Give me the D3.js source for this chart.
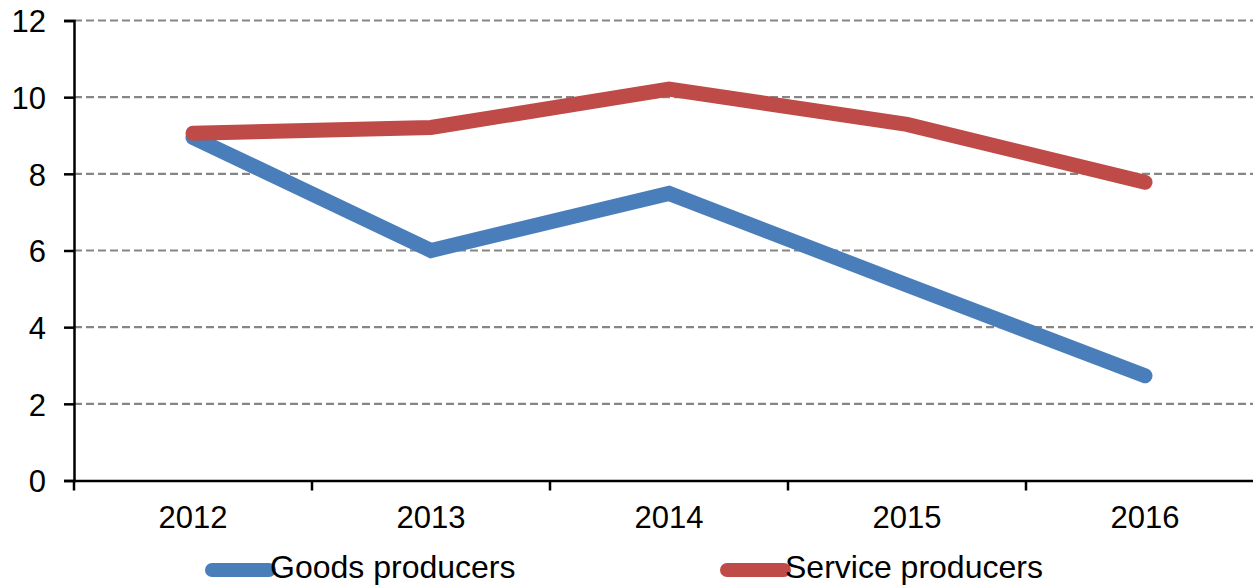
<!DOCTYPE html>
<html><head><meta charset="utf-8">
<script src="https://cdn.jsdelivr.net/npm/d3@7"></script>
<style>body{margin:0;background:#fff}svg{display:block;font-family:"Liberation Sans",Arial,sans-serif}</style>
</head><body><svg id="c" width="1253" height="586"></svg>
<script>
const years = ["2012","2013","2014","2015","2016"];
const goods = [8.95, 6.0, 7.49, 5.1, 2.73];
const service = [9.06, 9.21, 10.21, 9.29, 7.78];
const yTicks = [0,2,4,6,8,10,12];
const seriesNames = ["Goods producers","Service producers"];
const colors = ["#4A7EBB","#BE4B48"];

const svg = d3.select("#c");
const L = 74, R = 1264, T = 20.5, B = 480.5;
const x = d3.scaleBand().domain(years).range([L, R]);
const y = d3.scaleLinear().domain([0,12]).range([B, T]);

// gridlines
svg.append("g").selectAll("line").data(yTicks.filter(d=>d>0)).join("line")
  .attr("x1", L).attr("x2", 1253).attr("y1", d=>y(d)).attr("y2", d=>y(d))
  .attr("stroke", "#868686").attr("stroke-width", 2.2).attr("stroke-dasharray", "8,4");

// y axis
const ya = svg.append("g").attr("transform", `translate(${L},0)`)
  .call(d3.axisLeft(y).tickValues(yTicks).tickSize(10).tickPadding(18));
ya.select(".domain").attr("stroke","#000").attr("stroke-width",2.5);
ya.selectAll(".tick line").attr("stroke","#000").attr("stroke-width",2.5);
ya.selectAll("text").attr("font-size",31).attr("fill","#000").attr("dy","0.36em");

// x axis
const xa = svg.append("g").attr("transform", `translate(0,${B})`)
  .call(d3.axisBottom(x).tickSize(0).tickPadding(25));
xa.select(".domain").attr("stroke","#000").attr("stroke-width",2.5);
xa.selectAll("text").attr("font-size",31).attr("fill","#000");
xa.append("g").selectAll("line").data(years).join("line")
  .attr("x1", d=>x(d)).attr("x2", d=>x(d)).attr("y1",0).attr("y2",10)
  .attr("stroke","#000").attr("stroke-width",2.5);

// lines
const line = d3.line().x((d,i)=>x(years[i])+x.bandwidth()/2).y(d=>y(d));
[goods, service].forEach((s,i)=>{
  svg.append("path").datum(s).attr("d", line).attr("fill","none")
    .attr("stroke", colors[i]).attr("stroke-width", 15)
    .attr("stroke-linecap","round").attr("stroke-linejoin","miter");
});

// legend
const legX = [212, 727];
seriesNames.forEach((n,i)=>{
  const g = svg.append("g").attr("transform", `translate(${legX[i]},570)`);
  g.append("line").attr("x1",0).attr("x2",57).attr("y1",0).attr("y2",0)
    .attr("stroke",colors[i]).attr("stroke-width",14).attr("stroke-linecap","round");
  g.append("text").attr("x",58).attr("y",8).attr("font-size",32).attr("fill","#000").text(n);
});
</script></body></html>
